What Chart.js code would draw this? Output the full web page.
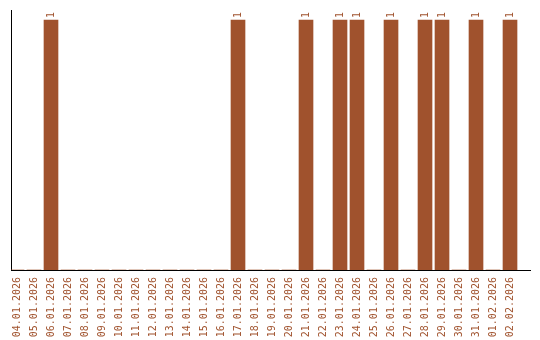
<!DOCTYPE html>
<html>
<head>
<meta charset="utf-8">
<script src="https://cdn.jsdelivr.net/npm/chart.js@4/dist/chart.umd.min.js"></script>
<style>
  html, body { margin: 0; padding: 0; background: #fff; }
  #wrap { width: 540px; height: 340px; }
</style>
</head>
<body>
<div id="wrap"><canvas id="c" width="540" height="340"></canvas></div>
<script>
const dates = [
  '04.01.2026', '05.01.2026', '06.01.2026', '07.01.2026', '08.01.2026',
  '09.01.2026', '10.01.2026', '11.01.2026', '12.01.2026', '13.01.2026',
  '14.01.2026', '15.01.2026', '16.01.2026', '17.01.2026', '18.01.2026',
  '19.01.2026', '20.01.2026', '21.01.2026', '22.01.2026', '23.01.2026',
  '24.01.2026', '25.01.2026', '26.01.2026', '27.01.2026', '28.01.2026',
  '29.01.2026', '30.01.2026', '31.01.2026', '01.02.2026', '02.02.2026'
];
const counts = [
  0, 0, 1, 0, 0, 0, 0, 0, 0, 0,
  0, 0, 0, 1, 0, 0, 0, 1, 0, 1,
  1, 0, 1, 0, 1, 1, 0, 1, 0, 1
];

const SIENNA = '#a0522d';
const FONT = '"DejaVu Sans Mono", monospace';

// draws the rotated count above each non-empty bar
const valueLabels = {
  id: 'valueLabels',
  afterDatasetsDraw(chart) {
    const ctx = chart.ctx;
    const meta = chart.getDatasetMeta(0);
    ctx.save();
    ctx.fillStyle = SIENNA;
    ctx.font = '10px ' + FONT;
    ctx.textAlign = 'left';
    ctx.textBaseline = 'middle';
    meta.data.forEach((bar, i) => {
      if (!counts[i]) return;
      ctx.save();
      ctx.translate(bar.x, bar.y - 2);
      ctx.rotate(-Math.PI / 2);
      ctx.fillText(String(counts[i]), 0, 0);
      ctx.restore();
    });
    ctx.restore();
  }
};

new Chart(document.getElementById('c'), {
  type: 'bar',
  data: {
    datasets: [{
      data: counts.map((v, i) => ({ x: i, y: v })),
      backgroundColor: SIENNA,
      borderWidth: 0,
      barThickness: 14
    }]
  },
  options: {
    responsive: false,
    animation: false,
    layout: { padding: { top: 10, right: 10, left: 0, bottom: 0 } },
    plugins: { legend: { display: false }, tooltip: { enabled: false } },
    scales: {
      x: {
        type: 'linear',
        offset: false,
        min: -0.353,
        max: 30.176,
        grid: { display: false, drawTicks: false, offset: false },
        border: { display: true, color: '#000', width: 1 },
        afterBuildTicks: s => { s.ticks = dates.map((d, i) => ({ value: i })); },
        afterFit: s => { s.height = 70; s.paddingLeft = 0; s.paddingRight = 0; },
        ticks: {
          autoSkip: false,
          maxRotation: 90,
          minRotation: 90,
          padding: 7,
          color: SIENNA,
          font: { family: FONT, size: 10 },
          callback: v => dates[v]
        }
      },
      y: {
        min: 0,
        max: 1.04,
        grid: { display: false, drawTicks: false },
        border: { display: true, color: '#000', width: 1 },
        ticks: { display: false },
        afterFit: s => { s.width = 11; }
      }
    }
  },
  plugins: [valueLabels]
});
</script>
</body>
</html>
